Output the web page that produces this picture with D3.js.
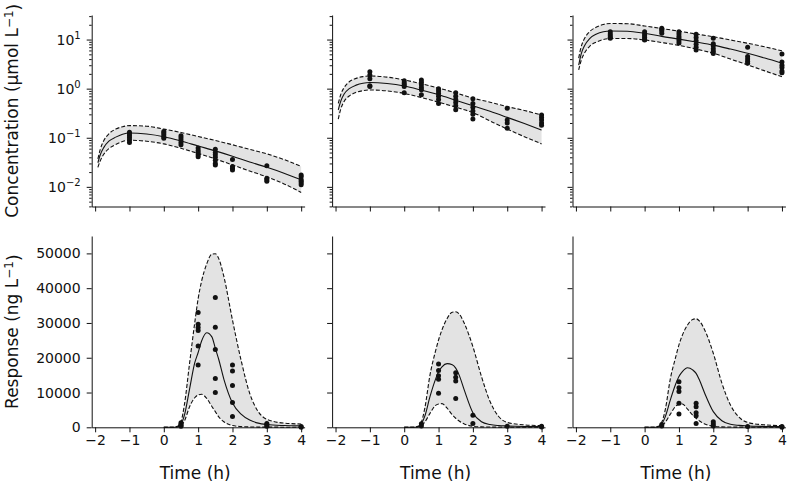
<!DOCTYPE html>
<html><head><meta charset="utf-8">
<script src="https://cdn.jsdelivr.net/npm/d3@7"></script>
<style>body{margin:0;background:#fff}svg{display:block}text{font-family:"DejaVu Sans",sans-serif;fill:#111}</style>
</head><body><svg id="c" width="787" height="484"></svg>
<script>
// ---------- DATA ----------
const xTicks = [-2, -1, 0, 1, 2, 3, 4];
const concTickExps = [1, 0, -1, -2];
const respTicks = [0, 10000, 20000, 30000, 40000, 50000];

const concTimes = [-1.92, -1.85, -1.75, -1.6, -1.4, -1.2, -1, -0.5, 0, 0.5, 1, 1.5, 2, 2.5, 3, 3.5, 4];
const concMedian = [
  [0.031, 0.045, 0.063, 0.085, 0.103, 0.118, 0.125, 0.119, 0.105, 0.086, 0.068, 0.054, 0.042, 0.032, 0.025, 0.019, 0.014],
  [0.37, 0.55, 0.78, 1.0, 1.18, 1.29, 1.33, 1.27, 1.13, 0.93, 0.75, 0.58, 0.45, 0.345, 0.26, 0.195, 0.144],
  [3.0, 5.0, 7.5, 10.5, 13.0, 14.4, 14.9, 14.8, 13.4, 11.6, 10.2, 8.9, 7.7, 6.4, 5.25, 4.2, 3.3]
];
const concUpper = [
  [0.037, 0.058, 0.087, 0.12, 0.15, 0.168, 0.177, 0.172, 0.150, 0.128, 0.106, 0.088, 0.072, 0.058, 0.047, 0.036, 0.026],
  [0.50, 0.75, 1.05, 1.38, 1.62, 1.76, 1.81, 1.72, 1.50, 1.26, 1.03, 0.82, 0.64, 0.53, 0.43, 0.36, 0.29],
  [4.2, 7.0, 10.5, 14.5, 18.0, 20.3, 21.2, 21.0, 18.9, 16.8, 14.8, 13.0, 11.4, 9.8, 8.4, 7.1, 5.9]
];
const concLower = [
  [0.025, 0.034, 0.046, 0.060, 0.073, 0.084, 0.089, 0.085, 0.075, 0.061, 0.048, 0.037, 0.028, 0.021, 0.016, 0.0115, 0.0077],
  [0.24, 0.38, 0.55, 0.71, 0.84, 0.91, 0.94, 0.90, 0.80, 0.66, 0.53, 0.42, 0.325, 0.22, 0.15, 0.105, 0.075],
  [2.4, 3.7, 5.3, 7.3, 8.9, 10.0, 10.5, 10.5, 9.8, 8.7, 7.6, 6.4, 5.25, 4.0, 3.05, 2.3, 1.75]
];

const respTimes = [0, 0.25, 0.4, 0.5, 0.6, 0.75, 0.9, 1, 1.1, 1.25, 1.4, 1.5, 1.6, 1.75, 2, 2.25, 2.5, 2.75, 3, 3.5, 4];
const respMedian = [
  [0, 0, 150, 900, 3500, 11000, 18500, 21500, 24800, 27200, 26000, 22700, 19500, 13800, 7000, 3800, 2100, 1200, 800, 500, 400],
  [0, 0, 150, 1000, 3200, 8800, 13500, 16000, 17400, 18300, 18000, 17000, 15000, 10700, 4200, 1600, 800, 500, 380, 250, 200],
  [0, 0, 150, 960, 3000, 7900, 12300, 14600, 16000, 17100, 16500, 15500, 13500, 9800, 4500, 1900, 860, 550, 380, 250, 200]
];
const respUpper = [
  [0, 0, 300, 1600, 6500, 18400, 30000, 37000, 42000, 47000, 49800, 49900, 48500, 43300, 30800, 19300, 9800, 4500, 2300, 1200, 950],
  [0, 0, 300, 1500, 5500, 15000, 21500, 25100, 28000, 31300, 33100, 33200, 32600, 29900, 23200, 14600, 7400, 3100, 1400, 700, 500],
  [0, 0, 300, 1500, 5000, 14000, 20000, 23700, 26500, 29400, 31000, 31200, 30500, 28000, 21300, 12700, 6400, 2900, 1400, 700, 500]
];
const respLower = [
  [0, 0, 80, 400, 1800, 5900, 8500, 9300, 9500, 8300, 6000, 4500, 3000, 1600, 500, 200, 100, 60, 50, 30, 20],
  [0, 0, 80, 400, 1500, 4000, 6200, 6700, 6800, 5500, 3600, 2600, 1800, 960, 300, 120, 70, 50, 40, 30, 20],
  [0, 0, 80, 400, 1400, 3800, 6000, 6600, 6700, 5200, 3500, 2600, 1800, 960, 300, 120, 70, 50, 40, 30, 20]
];

const obsTimes = [-1, 0, 0.5, 1, 1.5, 2, 3, 4];
const concObs = [
  [[0.13, 0.12, 0.11, 0.10, 0.09, 0.08], [0.134, 0.125, 0.115, 0.105, 0.098], [0.11, 0.10, 0.09, 0.08, 0.072],
   [0.062, 0.055, 0.050, 0.045, 0.041], [0.058, 0.05, 0.045, 0.04, 0.035, 0.03, 0.028], [0.036, 0.026, 0.024, 0.022],
   [0.027, 0.015, 0.014, 0.013], [0.0175, 0.016, 0.014, 0.013, 0.012, 0.011]],
  [[2.2, 1.9, 1.6, 1.15, 1.1], [1.45, 1.3, 1.2, 1.1, 0.83], [1.5, 1.35, 1.2, 1.05, 0.95, 0.75],
   [1.0, 0.9, 0.8, 0.7, 0.6, 0.5], [0.83, 0.7, 0.6, 0.52, 0.45, 0.37], [0.62, 0.5, 0.42, 0.35, 0.3, 0.24],
   [0.40, 0.23, 0.20, 0.156], [0.29, 0.26, 0.23, 0.2, 0.18]],
  [[14.5, 13, 12, 11, 10.6], [14.5, 13, 12, 11, 10, 9.8], [17, 16, 15, 13.5],
   [14.5, 13, 11.5, 10.5, 9.5, 8.5], [12.8, 11, 9.5, 8, 7, 6.1], [10.6, 8.2, 7.5, 6.5, 5.8, 5.2],
   [7.0, 4.5, 4.0, 3.6, 3.3], [5.1, 3.5, 3.0, 2.7, 2.3, 2.1]]
];
const respObsTimes = [0.5, 1, 1.5, 2, 3, 4];
const respObs = [
  [[1300, 900, 500, 300], [33000, 29600, 28700, 27800, 23400, 17900], [37300, 28800, 22400, 14000, 10000],
   [17900, 16200, 12000, 7100, 3100], [1100, 700, 300], [200, 0]],
  [[1000, 400], [18200, 16300, 14800, 13800, 9800], [15700, 14400, 13300, 8300],
   [3500, 1100], [300], [300, 100]],
  [[770, 400], [13100, 11400, 10300, 6900, 3800], [6900, 5900, 4200, 3300, 1100],
   [1600, 960, 400], [200], [200, 0]]
];

// ---------- LAYOUT ----------
const svg = d3.select("#c");
const panelW = 212.9, left0 = 91.7, colStep = 240.4;
const rows = [{top: 15, bottom: 206.5}, {top: 236, bottom: 427.3}];
const ink = "#111";
const fillCol = "#e3e3e3";

function styleAxis(g) {
  g.selectAll("path.domain").attr("stroke", ink).attr("stroke-width", 1);
  g.selectAll(".tick line").attr("stroke", ink).attr("stroke-width", 1);
  g.selectAll(".tick text").attr("font-family", "DejaVu Sans").attr("font-size", 14).attr("fill", ink);
}

for (let i = 0; i < 3; i++) {
  const L = left0 + i * colStep;
  const x = d3.scaleLinear().domain([-2.1, 4.1]).range([L, L + panelW]);

  // ----- top: concentration (log) -----
  const r0 = rows[0];
  const yC = d3.scaleLog().domain([Math.pow(10, -2.4), Math.pow(10, 1.5)]).range([r0.bottom, r0.top]);
  const cg = svg.append("g");
  const cPts = concTimes.map((t, k) => ({t, m: concMedian[i][k], u: concUpper[i][k], l: concLower[i][k]}));
  cg.append("path").datum(cPts)
    .attr("d", d3.area().x(d => x(d.t)).y0(d => yC(d.l)).y1(d => yC(d.u)).curve(d3.curveMonotoneX))
    .attr("fill", fillCol);
  [["u", "4,2"], ["l", "4,2"], ["m", null]].forEach(([k, dash]) => {
    cg.append("path").datum(cPts)
      .attr("d", d3.line().x(d => x(d.t)).y(d => yC(d[k])).curve(d3.curveMonotoneX))
      .attr("fill", "none").attr("stroke", ink).attr("stroke-width", 1.1)
      .attr("stroke-dasharray", dash);
  });
  obsTimes.forEach((t, k) => {
    concObs[i][k].forEach(v => {
      cg.append("circle").attr("cx", x(t)).attr("cy", yC(v)).attr("r", 2.5).attr("fill", ink);
    });
  });
  // axes
  const majors = concTickExps.map(e => Math.pow(10, e));
  const minors = yC.ticks().filter(v => Math.abs(Math.log10(v) - Math.round(Math.log10(v))) > 1e-6);
  const ayMinor = svg.append("g").attr("transform", `translate(${L},0)`)
    .call(d3.axisLeft(yC).tickValues(minors).tickSize(2.5).tickFormat(""));
  ayMinor.select("path.domain").remove();
  styleAxis(ayMinor);
  const ay = svg.append("g").attr("transform", `translate(${L},0)`)
    .call(d3.axisLeft(yC).tickValues(majors).tickSize(5).tickSizeOuter(0).tickPadding(6).tickFormat(""));
  styleAxis(ay);
  if (i === 0) {
    ay.selectAll(".tick").each(function(d) {
      const e = Math.round(Math.log10(d));
      const t = d3.select(this).append("text").attr("x", -11).attr("dy", "0.32em")
        .attr("text-anchor", "end").attr("font-size", 14).attr("fill", ink);
      t.append("tspan").text("10");
      t.append("tspan").attr("dy", "-0.55em").attr("font-size", 10).text(e < 0 ? "\u2212" + (-e) : String(e));
    });
  }
  const ax = svg.append("g").attr("transform", `translate(0,${r0.bottom})`)
    .call(d3.axisBottom(x).tickValues(xTicks).tickSize(5).tickSizeOuter(0).tickFormat(""));
  styleAxis(ax);

  // ----- bottom: response (linear) -----
  const r1 = rows[1];
  const yR = d3.scaleLinear().domain([0, 55000]).range([r1.bottom, r1.top]);
  const rg = svg.append("g");
  const rPts = respTimes.map((t, k) => ({t, m: respMedian[i][k], u: respUpper[i][k], l: respLower[i][k]}));
  rg.append("path").datum(rPts)
    .attr("d", d3.area().x(d => x(d.t)).y0(d => yR(d.l)).y1(d => yR(d.u)).curve(d3.curveMonotoneX))
    .attr("fill", fillCol);
  [["u", "4,2"], ["l", "4,2"], ["m", null]].forEach(([k, dash]) => {
    rg.append("path").datum(rPts)
      .attr("d", d3.line().x(d => x(d.t)).y(d => yR(d[k])).curve(d3.curveMonotoneX))
      .attr("fill", "none").attr("stroke", ink).attr("stroke-width", 1.1)
      .attr("stroke-dasharray", dash);
  });
  respObsTimes.forEach((t, k) => {
    respObs[i][k].forEach(v => {
      rg.append("circle").attr("cx", x(t)).attr("cy", yR(v)).attr("r", 2.5).attr("fill", ink);
    });
  });
  const ry = svg.append("g").attr("transform", `translate(${L},0)`)
    .call(d3.axisLeft(yR).tickValues(respTicks).tickSize(5).tickSizeOuter(0).tickPadding(6)
      .tickFormat(i === 0 ? d3.format("d") : ""));
  styleAxis(ry);
  const rx = svg.append("g").attr("transform", `translate(0,${r1.bottom})`)
    .call(d3.axisBottom(x).tickValues(xTicks).tickSize(5).tickSizeOuter(0).tickPadding(3)
      .tickFormat(d => d < 0 ? "\u2212" + (-d) : String(d)));
  styleAxis(rx);

  svg.append("text").attr("x", L + panelW / 2 - 3).attr("y", 479)
    .attr("text-anchor", "middle").attr("font-size", 17).text("Time (h)");
}

// y labels
const yl1 = svg.append("text").attr("transform", `translate(18,${(rows[0].top + rows[0].bottom) / 2}) rotate(-90)`)
  .attr("text-anchor", "middle").attr("font-size", 17);
yl1.append("tspan").text("Concentration (\u00b5mol L");
yl1.append("tspan").attr("dy", "-0.45em").attr("font-size", 12).text("\u22121");
yl1.append("tspan").attr("dy", "0.45em").text(")");

const yl2 = svg.append("text").attr("transform", `translate(18,${(rows[1].top + rows[1].bottom) / 2}) rotate(-90)`)
  .attr("text-anchor", "middle").attr("font-size", 17);
yl2.append("tspan").text("Response (ng L");
yl2.append("tspan").attr("dy", "-0.45em").attr("font-size", 12).text("\u22121");
yl2.append("tspan").attr("dy", "0.45em").text(")");
</script></body></html>
